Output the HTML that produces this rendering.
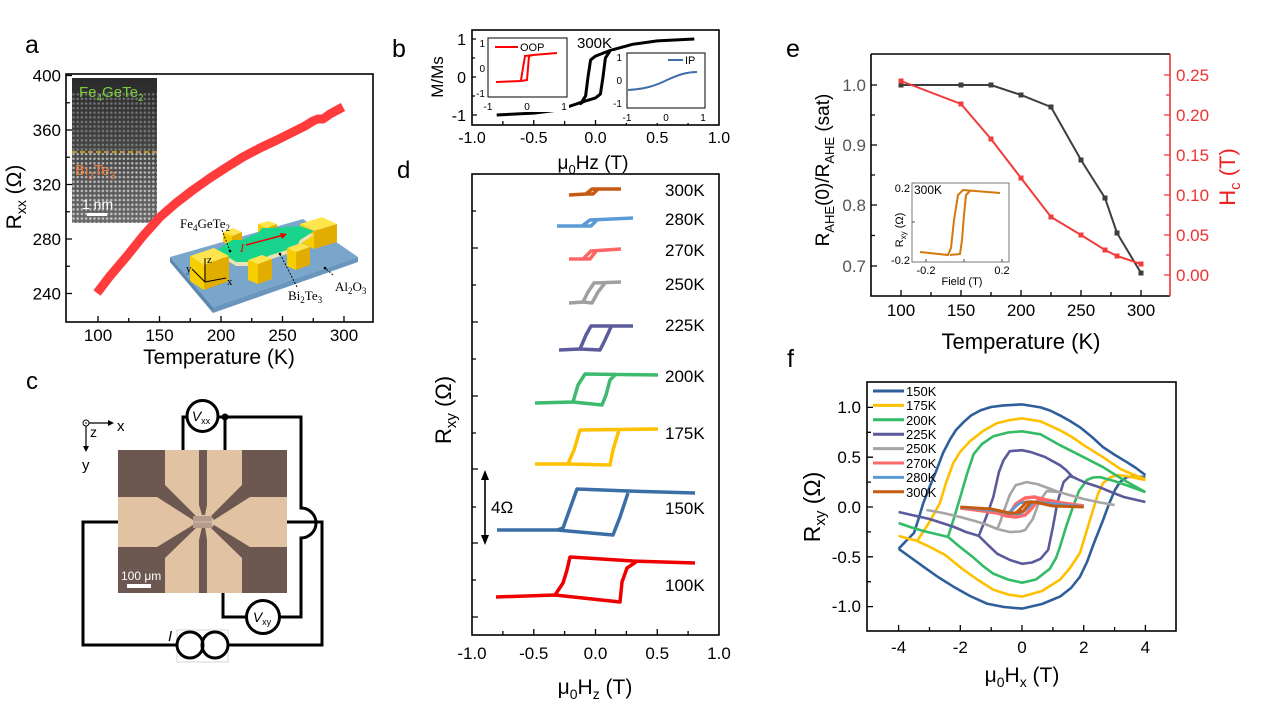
<!DOCTYPE html>
<html><head><meta charset="utf-8">
<style>
html,body{margin:0;padding:0;background:#fff;}
svg{display:block;}
text{font-family:"Liberation Sans",Arial,sans-serif;fill:#000;}
.sf{font-family:"Liberation Serif","Times New Roman",serif;}
</style></head><body>
<svg width="1269" height="718" viewBox="0 0 1269 718" xmlns="http://www.w3.org/2000/svg">
<defs>
<pattern id="dots" width="4.2" height="4.6" patternUnits="userSpaceOnUse"><circle cx="2.1" cy="2.3" r="1.3" fill="#fff"/></pattern>
<linearGradient id="stemg" x1="0" y1="0" x2="0" y2="1"><stop offset="0" stop-color="#2a2a2a"/><stop offset="0.5" stop-color="#454545"/><stop offset="1" stop-color="#6a6a6a"/></linearGradient>
</defs>
<rect width="1269" height="718" fill="#fff"/>

<!-- ===== Panel a ===== -->
<text x="25" y="53" font-size="25">a</text>
<rect x="72" y="78" width="85" height="145" fill="url(#stemg)"/>
<rect x="72" y="92" width="85" height="60" fill="url(#dots)" opacity="0.3"/>
<rect x="72" y="152" width="85" height="71" fill="url(#dots)" opacity="0.6"/>
<line x1="72" y1="152" x2="157" y2="152" stroke="#e0b020" stroke-width="1.5" stroke-dasharray="5,3"/>
<text x="79" y="97" font-size="15" style="fill:#7ccf3c">Fe<tspan font-size="10" dy="4">4</tspan><tspan dy="-4">GeTe</tspan><tspan font-size="10" dy="4">2</tspan></text>
<text x="75" y="175" font-size="15" style="fill:#f07a3c">Bi<tspan font-size="10" dy="4">2</tspan><tspan dy="-4">Te</tspan><tspan font-size="10" dy="4">3</tspan></text>
<text x="82" y="209" font-size="14" style="fill:#fff">1 nm</text>
<rect x="87" y="213" width="20" height="3" fill="#fff"/>

<rect x="66" y="74" width="307" height="248" fill="none" stroke="#000" stroke-width="1.6"/>
<path d="M98,322v-6 M128.75,322v-4 M159.5,322v-6 M190.25,322v-4 M221,322v-6 M251.75,322v-4 M282.5,322v-6 M313.25,322v-4 M344,322v-6 M66,75.5h6 M66,102.75h4 M66,130h6 M66,157.25h4 M66,184.5h6 M66,211.75h4 M66,239h6 M66,266.25h4 M66,293.5h6" stroke="#000" stroke-width="1.3" fill="none"/>
<g font-size="17" text-anchor="end">
<text x="61" y="81.5">400</text><text x="61" y="136">360</text><text x="61" y="190.5">320</text><text x="61" y="245">280</text><text x="61" y="299.5">240</text>
</g>
<g font-size="17" text-anchor="middle">
<text x="98" y="341">100</text><text x="159.5" y="341">150</text><text x="221" y="341">200</text><text x="282.5" y="341">250</text><text x="344" y="341">300</text>
</g>
<text x="219" y="364" font-size="21" text-anchor="middle">Temperature (K)</text>
<text transform="translate(21,197) rotate(-90)" font-size="21" text-anchor="middle">R<tspan font-size="14" dy="5">xx</tspan><tspan dy="-5"> (Ω)</tspan></text>

<path d="M97,293 L110,276 L127,256 L143,236 L160,217 L176,203 L193,190 L210,178 L227,167 L243,157 L260,148 L277,140 L293,132 L305,126 L313,121 L318,119 L323,119 L330,114 L343,107" fill="none" stroke="#ff3b3b" stroke-width="9" stroke-linejoin="round"/>

<!-- 3D device -->
<polygon points="170,257 303,219 358,257 213,307" fill="#7ba6cb"/>
<polygon points="170,257 213,307 213,313 170,262" fill="#5b88b0"/>
<polygon points="213,307 358,257 358,262 213,313" fill="#6a96bd"/>
<!-- back cubes -->
<polygon points="223,232 233,228 242,232 232,236" fill="#ffe54d"/><polygon points="223,232 232,236 232,246 223,242" fill="#f7cf00"/><polygon points="232,236 242,232 242,242 232,246" fill="#e0ad00"/>
<polygon points="258,224 268,221 277,224 267,228" fill="#ffe54d"/><polygon points="258,224 267,228 267,240 258,236" fill="#f7cf00"/><polygon points="267,228 277,224 277,236 267,240" fill="#e0ad00"/>
<polygon points="300,224 322,217 337,224 314,231" fill="#ffe54d"/><polygon points="300,224 314,231 314,249 300,242" fill="#f7cf00"/><polygon points="314,231 337,224 337,242 314,249" fill="#e0ad00"/>
<!-- Bi2Te3 + Fe4GeTe2 -->
<polygon points="217,254 232,244 242,244 258,237 262,232 272,232 300,230 314,235 300,244 296,253 287,254 268,260 262,266 252,266 236,266 228,261" fill="#eee2b6"/>
<polygon points="217,250 232,240 242,240 258,233 262,228 272,228 300,226 314,231 300,240 296,249 287,250 268,256 262,262 252,262 236,262 228,257" fill="#19d48c"/>
<line x1="246" y1="245" x2="284" y2="235" stroke="#e00" stroke-width="1.5"/>
<polygon points="287,234 280,233 282,239" fill="#e00"/>
<text x="240" y="252" font-size="12" class="sf" font-style="italic" style="fill:#e00">I</text>
<!-- front cubes -->
<polygon points="190,256 214,248 229,256 204,265" fill="#ffe54d"/><polygon points="190,256 204,265 204,290 190,281" fill="#f7cf00"/><polygon points="204,265 229,256 229,281 204,290" fill="#e0ad00"/>
<polygon points="248,260 262,255 272,259 258,264" fill="#ffe54d"/><polygon points="248,260 258,264 258,284 248,280" fill="#f7cf00"/><polygon points="258,264 272,259 272,279 258,284" fill="#e0ad00"/>
<polygon points="287,248 301,243 310,247 296,252" fill="#ffe54d"/><polygon points="287,248 296,252 296,270 287,266" fill="#f7cf00"/><polygon points="296,252 310,247 310,265 296,270" fill="#e0ad00"/>
<!-- triad -->
<path d="M205,282 V258 M205,282 L226,278 M205,282 L192,269" stroke="#000" stroke-width="1" fill="none"/>
<text x="207" y="263" font-size="11" class="sf">z</text>
<text x="227" y="285" font-size="11" class="sf">x</text>
<text x="186" y="272" font-size="11" class="sf">y</text>
<!-- leaders -->
<path d="M222,230 L230,251 M297,287 L280,254 M333,275 L325,268" stroke="#000" stroke-width="0.9" stroke-dasharray="2,1.5" fill="none"/>
<circle cx="230" cy="251" r="1.3"/><circle cx="280" cy="254" r="1.3"/><circle cx="325" cy="268" r="1.3"/>
<text x="180" y="228" font-size="13" class="sf">Fe<tspan font-size="9" dy="3">4</tspan><tspan dy="-3">GeTe</tspan><tspan font-size="9" dy="3">2</tspan></text>
<text x="288" y="300" font-size="13" class="sf">Bi<tspan font-size="9" dy="3">2</tspan><tspan dy="-3">Te</tspan><tspan font-size="9" dy="3">3</tspan></text>
<text x="335" y="291" font-size="13" class="sf">Al<tspan font-size="9" dy="3">2</tspan><tspan dy="-3">O</tspan><tspan font-size="9" dy="3">3</tspan></text>

<!-- ===== Panel b ===== -->
<text x="392" y="57" font-size="25">b</text>
<rect x="472" y="30" width="247" height="95" fill="none" stroke="#000" stroke-width="1.6"/>
<path d="M502.9,125v-4 M533.75,125v-5 M564.6,125v-4 M595.5,125v-5 M626.4,125v-4 M657.25,125v-5 M688.1,125v-4 M472,39h5 M472,58h3 M472,77h5 M472,96h3 M472,115h5" stroke="#000" stroke-width="1.3"/>
<path d="M496.7,115 L533.8,113.1 L558.5,110 L583.2,101.7 L595.5,97.9 L600.4,94.1 L603,77 L605.4,58 L610.3,50.4 L632.5,44.3 L657.3,40.9 L694.3,39 M694.3,39 L657.3,40.9 L632.5,44.3 L610.3,50.4 L595.5,56.1 L590.6,59.9 L588,77 L585.6,96 L580.7,103.6 L583.2,101.7" fill="none" stroke="#000" stroke-width="3" stroke-linejoin="round"/>
<g font-size="16" text-anchor="end"><text x="466" y="45">1</text><text x="466" y="83">0</text><text x="466" y="121">-1</text></g>
<g font-size="16" text-anchor="middle"><text x="472" y="143">-1.0</text><text x="533.75" y="143">-0.5</text><text x="595.5" y="143">0.0</text><text x="657.25" y="143">0.5</text><text x="719" y="143">1.0</text></g>
<text transform="translate(443,77) rotate(-90)" font-size="17" text-anchor="middle">M/Ms</text>
<text x="593" y="169" font-size="19" text-anchor="middle">μ<tspan font-size="13" dy="5">0</tspan><tspan dy="-5">Hz (T)</tspan></text>
<text x="577" y="48" font-size="15">300K</text>
<!-- OOP inset -->
<rect x="476" y="36" width="93" height="76" fill="#fff"/>
<rect x="488" y="38" width="79" height="59" fill="none" stroke="#000" stroke-width="1"/>
<path d="M496,82 L521,81 L527,80 L529,56 L533,55 L557,53 M533,55 L525,56 L521,80" fill="none" stroke="#f00" stroke-width="2"/>
<line x1="495" y1="47" x2="518" y2="47" stroke="#f00" stroke-width="2"/>
<text x="520" y="51" font-size="11">OOP</text>
<g font-size="10" text-anchor="end"><text x="485" y="47">1</text><text x="485" y="72">0</text><text x="485" y="97">-1</text></g>
<g font-size="10" text-anchor="middle"><text x="488" y="110">-1</text><text x="527" y="110">0</text><text x="564" y="110">1</text></g>
<!-- IP inset -->
<rect x="612" y="51" width="96" height="72" fill="#fff"/>
<rect x="627" y="53" width="78" height="55" fill="none" stroke="#000" stroke-width="1"/>
<path d="M628,90 C645,89 655,86 667,80 C680,74 688,72 697,72" fill="none" stroke="#3f6fa8" stroke-width="2"/>
<line x1="668" y1="60" x2="683" y2="60" stroke="#3f6fa8" stroke-width="2"/>
<text x="685" y="64" font-size="11">IP</text>
<g font-size="10" text-anchor="end"><text x="622" y="61">1</text><text x="622" y="84">0</text><text x="622" y="107">-1</text></g>
<g font-size="10" text-anchor="middle"><text x="627" y="121">-1</text><text x="666" y="121">0</text><text x="703" y="121">1</text></g>

<!-- ===== Panel c ===== -->
<text x="26" y="389" font-size="24">c</text>
<circle cx="86" cy="423" r="3" fill="none" stroke="#000" stroke-width="1"/><circle cx="86" cy="423" r="0.8"/>
<path d="M89,423 H110 M86,426 V447" stroke="#000" stroke-width="1.2"/>
<polygon points="114,423 108,420 108,426"/><polygon points="86,452 83,446 89,446"/>
<text x="117" y="431" font-size="15">x</text>
<text x="90" y="437" font-size="14">z</text>
<text x="82" y="470" font-size="15">y</text>
<!-- photo -->
<rect x="118" y="450" width="169" height="143" fill="#e1c3a3"/>
<g fill="#6c5850">
<polygon points="118,450 165,450 165,485 196,516 193,520 157,497 118,497"/>
<polygon points="287,450 242,450 242,485 211,516 214,520 250,497 287,497"/>
<polygon points="118,547 157,547 193,525 196,528 165,558 165,593 118,593"/>
<polygon points="287,547 250,547 214,525 211,528 242,558 242,593 287,593"/>
<polygon points="199,450 207,450 207,505 205,515 202,515 199,505"/>
<polygon points="202,527 205,527 207,540 207,593 199,593 199,540"/>
</g>
<rect x="193" y="516" width="19" height="12" fill="#b59b8e"/>
<line x1="193" y1="522" x2="212" y2="522" stroke="#cfb3a2" stroke-width="1.5"/>
<text x="121" y="580" font-size="12" style="fill:#fff">100 μm</text>
<rect x="127" y="584" width="24" height="4" fill="#fff"/>
<!-- wires -->
<g fill="none" stroke="#000" stroke-width="3">
<path d="M183,450 V417 H187"/>
<path d="M225,450 V417"/>
<path d="M218,417 H301 V508 A15,15 0 0 1 301,538 V617 H280"/>
<path d="M247,617 H223 V593"/>
<path d="M118,522 H83 V645 H177"/>
<path d="M228,645 H322 V522 H287"/>
</g>
<rect x="177" y="630" width="51" height="32" fill="none" stroke="#ccc" stroke-width="0.8"/>
<circle cx="190" cy="645" r="13" fill="none" stroke="#000" stroke-width="3"/>
<circle cx="215" cy="645" r="13" fill="none" stroke="#000" stroke-width="3"/>
<circle cx="202.5" cy="416" r="15.5" fill="#fff" stroke="#000" stroke-width="3"/>
<circle cx="225" cy="417" r="3.5"/>
<circle cx="263" cy="617" r="16.5" fill="#fff" stroke="#000" stroke-width="3"/>
<text x="201" y="421" font-size="14" text-anchor="middle" font-style="italic">V<tspan font-size="9" dy="3" font-style="normal">xx</tspan></text>
<text x="262" y="622" font-size="14" text-anchor="middle" font-style="italic">V<tspan font-size="9" dy="3" font-style="normal">xy</tspan></text>
<text x="168" y="641" font-size="15" font-style="italic">I</text>

<!-- ===== Panel d ===== -->
<text x="397" y="178" font-size="24">d</text>
<rect x="472" y="174" width="247" height="461" fill="none" stroke="#000" stroke-width="1.6"/>
<path d="M472,211h4 M472,248h6 M472,285h4 M472,322h6 M472,359h4 M472,396h6 M472,433h4 M472,469h6 M472,507h4 M472,543h6 M472,580h4 M472,617h6 M502.9,635v-4 M533.75,635v-6 M564.6,635v-4 M595.5,635v-6 M626.4,635v-4 M657.25,635v-6 M688.1,635v-4" stroke="#000" stroke-width="1.3"/>
<g fill="none" stroke-width="3.5" stroke-linejoin="round">
<path d="M569,195 L586,194 L592,189 L621,189 M586,194 L593,194 L598,189" stroke="#c55a11"/>
<path d="M557,226 L582,226 L590,220 L633,218 M582,226 L591,226 L598,219" stroke="#5b9bd5"/>
<path d="M569,259 L583,259 L591,251 L621,249 M583,259 L590,259 L597,250" stroke="#ff6666"/>
<path d="M569,303 L583,302 L588,292 L594,283 L621,282 M583,302 L592,303 L598,292 L605,283" stroke="#a0a0a0"/>
<path d="M559,350 L580,349 L586,335 L591,326 L633,326 M580,349 L600,350 L605,340 L611,327" stroke="#5c5c9c"/>
<path d="M535,403 L573,402 L578,385 L585,374 L658,375 M573,402 L602,405 L606,395 L610,380 L615,375" stroke="#3cba6e"/>
<path d="M535,464 L568,464 L574,450 L580,430 L658,429 M568,464 L610,465 L613,450 L619,430" stroke="#ffc000"/>
<path d="M497,530 L557,530 L563,528 L577,489 L628,491 L695,493 M557,530 L613,535 L620,517 L628,493" stroke="#3a6ea5"/>
<path d="M496,597 L555,595 L563,583 L567,570 L570,557 L633,561 L695,563 M555,595 L620,602 L622,582 L627,568 L636,562" stroke="#ee0000"/>
</g>
<g font-size="17">
<text x="665" y="196">300K</text><text x="665" y="225">280K</text><text x="665" y="256">270K</text><text x="665" y="290">250K</text><text x="665" y="331">225K</text><text x="665" y="382">200K</text><text x="665" y="439">175K</text><text x="665" y="514">150K</text><text x="665" y="591">100K</text>
</g>
<line x1="485" y1="476" x2="485" y2="538" stroke="#000" stroke-width="1.6"/>
<polygon points="485,470 481,480 489,480"/><polygon points="485,545 481,535 489,535"/>
<text x="491" y="513" font-size="17">4Ω</text>
<g font-size="17" text-anchor="middle"><text x="472" y="659">-1.0</text><text x="533.75" y="659">-0.5</text><text x="595.5" y="659">0.0</text><text x="657.25" y="659">0.5</text><text x="719" y="659">1.0</text></g>
<text x="595" y="694" font-size="21" text-anchor="middle">μ<tspan font-size="14" dy="5">0</tspan><tspan dy="-5">H</tspan><tspan font-size="14" dy="5">z</tspan><tspan dy="-5"> (T)</tspan></text>
<text transform="translate(451,410) rotate(-90)" font-size="22" text-anchor="middle">R<tspan font-size="15" dy="5">xy</tspan><tspan dy="-5"> (Ω)</tspan></text>

<!-- ===== Panel e ===== -->
<text x="786" y="57" font-size="25">e</text>
<path d="M871,54 V296 H1170 M871,54 H1170" fill="none" stroke="#000" stroke-width="1.6"/>
<line x1="1170" y1="54" x2="1170" y2="296" stroke="#ee3333" stroke-width="1.6"/>
<path d="M901,296v-6 M931,296v-4 M961,296v-6 M991,296v-4 M1021,296v-6 M1051,296v-4 M1081,296v-6 M1111,296v-4 M1141,296v-6 M871,85h6 M871,115h4 M871,145h6 M871,175h4 M871,205h6 M871,235.5h4 M871,266h6" stroke="#000" stroke-width="1.3"/>
<path d="M1170,75h-6 M1170,95h-4 M1170,115h-6 M1170,135h-4 M1170,155h-6 M1170,175h-4 M1170,195h-6 M1170,215h-4 M1170,235h-6 M1170,255h-4 M1170,275h-6" stroke="#ee3333" stroke-width="1.3"/>
<path d="M901,85 L961,85 L991,85 L1021,95 L1051,107 L1081,160 L1105,198 L1117,233 L1141,273" fill="none" stroke="#3d3d3d" stroke-width="2"/>
<g fill="#3d3d3d"><rect x="898.5" y="82.5" width="5" height="5"/><rect x="958.5" y="82.5" width="5" height="5"/><rect x="988.5" y="82.5" width="5" height="5"/><rect x="1018.5" y="92.5" width="5" height="5"/><rect x="1048.5" y="104.5" width="5" height="5"/><rect x="1078.5" y="157.5" width="5" height="5"/><rect x="1102.5" y="195.5" width="5" height="5"/><rect x="1114.5" y="230.5" width="5" height="5"/><rect x="1138.5" y="270.5" width="5" height="5"/></g>
<path d="M901,81 L961,104 L991,139 L1021,178 L1051,217 L1081,235 L1105,250 L1117,256 L1141,264" fill="none" stroke="#f03c3c" stroke-width="2"/>
<g fill="#f03c3c"><rect x="898.5" y="78.5" width="5" height="5"/><rect x="958.5" y="101.5" width="5" height="5"/><rect x="988.5" y="136.5" width="5" height="5"/><rect x="1018.5" y="175.5" width="5" height="5"/><rect x="1048.5" y="214.5" width="5" height="5"/><rect x="1078.5" y="232.5" width="5" height="5"/><rect x="1102.5" y="247.5" width="5" height="5"/><rect x="1114.5" y="253.5" width="5" height="5"/><rect x="1138.5" y="261.5" width="5" height="5"/></g>
<g font-size="17" text-anchor="end" style="fill:#555"><text x="866" y="91" style="fill:#555">1.0</text><text x="866" y="151" style="fill:#555">0.9</text><text x="866" y="211" style="fill:#555">0.8</text><text x="866" y="272" style="fill:#555">0.7</text></g>
<g font-size="17" text-anchor="middle"><text x="901" y="316">100</text><text x="961" y="316">150</text><text x="1021" y="316">200</text><text x="1081" y="316">250</text><text x="1141" y="316">300</text></g>
<g font-size="17"><text x="1176" y="81" style="fill:#ee3333">0.25</text><text x="1176" y="121" style="fill:#ee3333">0.20</text><text x="1176" y="161" style="fill:#ee3333">0.15</text><text x="1176" y="201" style="fill:#ee3333">0.10</text><text x="1176" y="241" style="fill:#ee3333">0.05</text><text x="1176" y="281" style="fill:#ee3333">0.00</text></g>
<text x="1021" y="349" font-size="22" text-anchor="middle">Temperature (K)</text>
<text transform="translate(829,170) rotate(-90)" font-size="19" text-anchor="middle">R<tspan font-size="13" dy="5">AHE</tspan><tspan dy="-5">(0)/R</tspan><tspan font-size="13" dy="5">AHE</tspan><tspan dy="-5"> (sat)</tspan></text>
<text transform="translate(1235,177) rotate(-90)" font-size="22" text-anchor="middle" style="fill:#ee2222">H<tspan font-size="15" dy="5" style="fill:#ee2222">c</tspan><tspan dy="-5" style="fill:#ee2222"> (T)</tspan></text>
<!-- inset e -->
<rect x="912" y="183" width="97" height="79" fill="#fff" stroke="#777" stroke-width="1"/>
<path d="M912,222h3 M926,262v-3 M964,262v-3 M1002,262v-3" stroke="#555" stroke-width="1"/>
<path d="M920,252 L948,255 L951,248 L954,220 L958,195 L963,190 L1000,193 M950,255 L960,254 L962,240 L964,215 L966,195 L970,191" fill="none" stroke="#d4780c" stroke-width="2"/>
<text x="914" y="194" font-size="12">300K</text>
<g font-size="11" text-anchor="end"><text x="910" y="192">0.2</text><text x="910" y="264">-0.2</text></g>
<g font-size="11" text-anchor="middle"><text x="926" y="274">-0.2</text><text x="1002" y="274">0.2</text><text x="962" y="285">Field (T)</text></g>
<text transform="translate(903,230) rotate(-90)" font-size="11" text-anchor="middle">R<tspan font-size="8" dy="3">xy</tspan><tspan dy="-3"> (Ω)</tspan></text>

<!-- ===== Panel f ===== -->
<text x="787" y="367" font-size="25">f</text>
<rect x="867" y="382" width="309" height="249" fill="none" stroke="#000" stroke-width="1.6"/>
<path d="M898.6,631v-6 M929.5,631v-4 M960.3,631v-6 M991.2,631v-4 M1022,631v-6 M1052.9,631v-4 M1083.7,631v-6 M1114.6,631v-4 M1145.4,631v-6 M867,407.4h6 M867,432.3h4 M867,457.2h6 M867,482.1h4 M867,507h6 M867,531.9h4 M867,556.8h6 M867,581.7h4 M867,606.6h6" stroke="#000" stroke-width="1.3"/>
<g fill="none" stroke-width="2.6" stroke-linejoin="round">
<path stroke="#2f5f9b" d="M898.6,548.8 L906,541 L914,533 L918.5,519 L923.3,503 L930,486 L936.9,469.2 L943,453 L950.1,439.3 L956,430 L963.4,422.3 L971,415.5 L980.4,410.4 L991,407 L1003.5,405.4 L1022,404.4 L1040.5,407.4 L1050,410.5 L1060,415.4 L1070,421 L1080,427.3 L1092,437 L1103.1,447.2 L1115,455 L1126.9,462.2 L1136,468 L1145.4,475.1 M898.6,548.8 L910,557 L923.6,566.8 L938,577 L953.5,586.7 L970,596 L986.8,603.6 L1004,607 L1022,608.6 L1042,604 L1060,596.6 L1071,588 L1080,576.7 L1087,562 L1094,543 L1103.1,520 L1109,504 L1114.9,490.1 L1120,482 L1126.9,477.1 L1135,476.5 L1145.4,477.1"/>
<path stroke="#ffc000" d="M898.6,535.9 L908,538.5 L917.1,540.9 L923,532 L929.5,522 L935,512 L939.9,503 L946,483 L953.2,463.2 L960,452 L969.9,441.3 L983,431 L996.7,423.3 L1010,420 L1022,418.4 L1040.5,421.3 L1060,430.3 L1072,437 L1083.7,445.2 L1103.1,457.2 L1120.7,469.2 L1133,474.5 L1145.4,479.1 M917.1,540.9 L930,547 L944.9,554.8 L963.4,569.7 L978,580 L993.3,589.7 L1008,594.5 L1022,596.6 L1042,591 L1060,579.7 L1070,568 L1080,552.8 L1086,533 L1093,510 L1098,494 L1103.1,483.1 L1110,477.5 L1117,475.1 L1126.9,476.1 L1145.4,480.1"/>
<path stroke="#33bb66" d="M898.6,523 L910,527 L923.3,531 L936,534 L948,536.9 L954,518 L960.3,497 L967,474 L973.6,454.2 L982,444 L993.3,436.3 L1008,432.5 L1022,431.3 L1040.5,434.3 L1060,445.2 L1083.7,457.2 L1103.1,467.2 L1123.8,480.1 L1145.4,492.1 M948,536.9 L960,547 L972.6,556.8 L983,566 L993.3,573.7 L1008,579.5 L1022,582.7 L1036,579.5 L1049.8,568.8 L1056,558 L1060,546.8 L1066,527 L1072.9,507 L1079,491 L1086.8,480.1 L1093,477.5 L1100,477.1 L1114.6,481.1 L1130,486.5 L1145.4,492.1"/>
<path stroke="#5b5b9b" d="M898.6,512 L914,515.5 L929.5,519 L942,523 L954.1,527 L966,532 L978.8,535.9 L983.5,524 L988.1,512 L993.3,497 L998.9,472.1 L1003.5,460.2 L1009.7,451.2 L1022,450.2 L1031.3,452.2 L1045,457 L1060,465.2 L1066,470 L1072.9,477.1 L1085,482.5 L1099.1,487.1 L1111,492 L1123.8,497 L1145.4,502 M978.8,535.9 L988,545 L997.3,553.8 L1010,560 L1022,563.8 L1032,562.5 L1040.5,558.8 L1048.2,549.8 L1052.9,527 L1057.5,502 L1063.6,482.1 L1069.8,476.1 L1076,478.1"/>
<path stroke="#a5a5a5" d="M926.4,510 L943,513 L960.3,517 L973,520.5 L985,524 L997.3,529 L1000.5,521 L1003.5,512 L1009.7,495 L1015.8,485.1 L1026.6,482.1 L1037.4,484.1 L1059,492.1 L1083.7,499 L1100,502.5 L1114.6,505 M997.3,529 L1009.7,532 L1020,531.5 L1025.1,530 L1032.8,519 L1039,502 L1046.7,491.1 L1059,492.1"/>
<path stroke="#ff6a6a" stroke-width="3.5" d="M960.3,508 L980,510.5 L997.3,513 L1006.6,516 L1012,510 L1015.8,504 L1025.1,498 L1034.3,497 L1046.7,500 L1062.1,503 L1083.7,506 M1006.6,516 L1015.8,517 L1025.1,515 L1031.3,509 L1037.4,501 L1046.7,500"/>
<path stroke="#5b9bd5" d="M960.3,507.5 L997.3,511 L1008,513.5 L1014,508 L1020,503 L1030,501.5 L1046,503 L1083.7,506.5 M1008,513.5 L1020,514 L1027,509 L1033,503"/>
<path stroke="#c55a11" stroke-width="3" d="M960.3,507 L991.2,509 L1009.7,513 L1015.8,513 L1019,510 L1022,507 L1026.6,502 L1034.3,502 L1052.9,506 L1083.7,507 M1015.8,513 L1023.5,511 L1028.2,505 L1031,502.5"/>
</g>
<g stroke-width="3">
<line x1="873" y1="391" x2="904" y2="391" stroke="#2f5f9b"/>
<line x1="873" y1="405.4" x2="904" y2="405.4" stroke="#ffc000"/>
<line x1="873" y1="419.8" x2="904" y2="419.8" stroke="#33bb66"/>
<line x1="873" y1="434.2" x2="904" y2="434.2" stroke="#5b5b9b"/>
<line x1="873" y1="448.6" x2="904" y2="448.6" stroke="#a5a5a5"/>
<line x1="873" y1="463" x2="904" y2="463" stroke="#ff6a6a"/>
<line x1="873" y1="477.4" x2="904" y2="477.4" stroke="#5b9bd5"/>
<line x1="873" y1="491.8" x2="904" y2="491.8" stroke="#c55a11"/>
</g>
<g font-size="13">
<text x="906" y="396">150K</text><text x="906" y="410">175K</text><text x="906" y="425">200K</text><text x="906" y="439">225K</text><text x="906" y="453">250K</text><text x="906" y="468">270K</text><text x="906" y="482">280K</text><text x="906" y="497">300K</text>
</g>
<g font-size="17" text-anchor="end"><text x="861" y="413">1.0</text><text x="861" y="463">0.5</text><text x="861" y="513">0.0</text><text x="861" y="563">-0.5</text><text x="861" y="612">-1.0</text></g>
<g font-size="17" text-anchor="middle"><text x="898.6" y="653">-4</text><text x="960.3" y="653">-2</text><text x="1022" y="653">0</text><text x="1083.7" y="653">2</text><text x="1145.4" y="653">4</text></g>
<text x="1022" y="682" font-size="21" text-anchor="middle">μ<tspan font-size="14" dy="5">0</tspan><tspan dy="-5">H</tspan><tspan font-size="14" dy="5">x</tspan><tspan dy="-5"> (T)</tspan></text>
<text transform="translate(820,507) rotate(-90)" font-size="23" text-anchor="middle">R<tspan font-size="15" dy="5">xy</tspan><tspan dy="-5"> (Ω)</tspan></text>
</svg>
</body></html>
